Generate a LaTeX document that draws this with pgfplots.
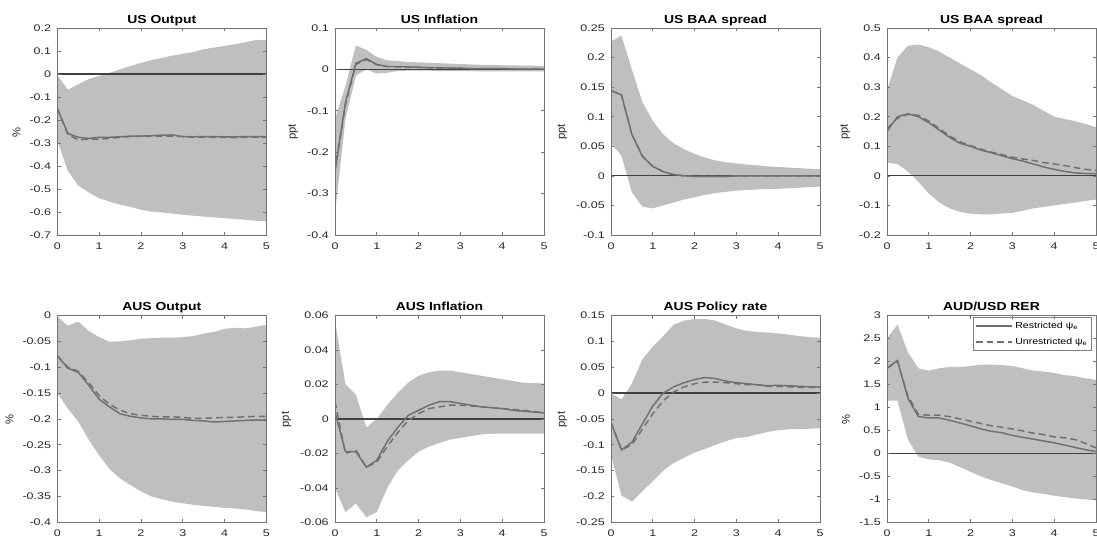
\documentclass[border=0pt]{standalone}
\usepackage{fontspec}
\setmainfont{Liberation Sans}[FakeStretch=1.2]
\newfontfamily\plainsans{Liberation Sans}
\newfontfamily\tickfont{Liberation Sans}[FakeStretch=1.3]
\usepackage{pgfplots}
\usepackage{pgfplotstable}
\pgfplotsset{compat=1.18}
\usepgfplotslibrary{fillbetween}

\definecolor{band}{RGB}{191,191,191}
\definecolor{med}{RGB}{112,112,112}
\definecolor{zero}{RGB}{64,64,64}

\pgfplotstableread{
x lo up r u
0 -0.29 -0.005 -0.15 -0.15
0.25 -0.42 -0.068 -0.258 -0.262
0.5 -0.485 -0.045 -0.275 -0.287
0.75 -0.515 -0.022 -0.28 -0.283
1 -0.54 -0.008 -0.275 -0.283
1.25 -0.555 0.005 -0.275 -0.28
1.5 -0.568 0.02 -0.273 -0.275
1.75 -0.578 0.035 -0.27 -0.272
2 -0.59 0.048 -0.27 -0.27
2.25 -0.598 0.06 -0.268 -0.27
2.5 -0.602 0.07 -0.266 -0.27
2.75 -0.607 0.08 -0.265 -0.27
3 -0.612 0.088 -0.272 -0.272
3.25 -0.616 0.095 -0.273 -0.275
3.5 -0.62 0.108 -0.272 -0.274
3.75 -0.623 0.115 -0.272 -0.275
4 -0.627 0.122 -0.273 -0.276
4.25 -0.63 0.13 -0.273 -0.277
4.5 -0.634 0.138 -0.272 -0.274
4.75 -0.638 0.148 -0.272 -0.274
5 -0.64 0.147 -0.273 -0.276
}\tUSout

\pgfplotstableread{
x lo up r u
0 -0.35 -0.12 -0.245 -0.245
0.25 -0.12 -0.04 -0.08 -0.085
0.5 -0.015 0.058 0.015 0.012
0.75 0.0 0.047 0.026 0.024
1 -0.01 0.03 0.012 0.011
1.25 -0.008 0.022 0.007 0.007
1.5 -0.004 0.02 0.007 0.006
1.75 -0.003 0.018 0.006 0.005
2 -0.003 0.017 0.005 0.005
2.25 -0.003 0.016 0.004 0.004
2.5 -0.004 0.015 0.004 0.003
2.75 -0.004 0.014 0.003 0.003
3 -0.004 0.013 0.003 0.003
3.25 -0.004 0.012 0.002 0.002
3.5 -0.005 0.011 0.002 0.002
3.75 -0.005 0.011 0.002 0.002
4 -0.005 0.010 0.002 0.002
4.25 -0.005 0.010 0.001 0.001
4.5 -0.005 0.009 0.001 0.001
4.75 -0.005 0.009 0.001 0.001
5 -0.005 0.008 0.001 0.001
}\tUSinf

\pgfplotstableread{
x lo up r u
0 0.055 0.2275 0.144 0.144
0.25 0.034 0.237 0.137 0.137
0.5 -0.028 0.18 0.07 0.07
0.75 -0.052 0.125 0.033 0.034
1 -0.055 0.093 0.016 0.016
1.25 -0.05 0.07 0.007 0.007
1.5 -0.045 0.055 0.002 0.002
1.75 -0.04 0.045 0.0 0.0
2 -0.036 0.037 -0.001 -0.001
2.25 -0.032 0.031 -0.001 -0.001
2.5 -0.029 0.026 -0.001 -0.001
2.75 -0.027 0.023 -0.001 -0.001
3 -0.025 0.021 0 0
3.25 -0.024 0.019 0 0
3.5 -0.023 0.018 0 0
3.75 -0.022 0.016 0 0
4 -0.022 0.015 0 0
4.25 -0.021 0.014 0 0
4.5 -0.02 0.013 0 0
4.75 -0.019 0.012 0 0
5 -0.018 0.011 0 0
}\tUSbaaA

\pgfplotstableread{
x lo up r u
0 0.045 0.29 0.15 0.16
0.25 0.04 0.40 0.2 0.195
0.5 0.015 0.44 0.21 0.208
0.75 -0.02 0.444 0.2 0.205
1 -0.06 0.435 0.18 0.185
1.25 -0.09 0.42 0.155 0.16
1.5 -0.11 0.40 0.13 0.135
1.75 -0.122 0.38 0.11 0.115
2 -0.128 0.36 0.1 0.102
2.25 -0.13 0.34 0.087 0.09
2.5 -0.13 0.315 0.078 0.08
2.75 -0.127 0.293 0.068 0.072
3 -0.125 0.27 0.058 0.063
3.25 -0.118 0.255 0.05 0.057
3.5 -0.11 0.24 0.04 0.052
3.75 -0.105 0.22 0.03 0.045
4 -0.1 0.2 0.022 0.04
4.25 -0.095 0.192 0.015 0.035
4.5 -0.09 0.185 0.01 0.028
4.75 -0.085 0.175 0.008 0.022
5 -0.08 0.165 0.007 0.018
}\tUSbaaB

\pgfplotstableread{
x lo up r u
0 -0.15 -0.002 -0.078 -0.078
0.25 -0.18 -0.02 -0.102 -0.1
0.5 -0.205 -0.012 -0.11 -0.108
0.75 -0.24 -0.03 -0.135 -0.13
1 -0.27 -0.042 -0.162 -0.155
1.25 -0.297 -0.051 -0.177 -0.172
1.5 -0.315 -0.05 -0.19 -0.183
1.75 -0.328 -0.048 -0.195 -0.19
2 -0.34 -0.045 -0.198 -0.193
2.25 -0.35 -0.044 -0.2 -0.195
2.5 -0.355 -0.043 -0.2 -0.196
2.75 -0.36 -0.043 -0.201 -0.196
3 -0.363 -0.042 -0.201 -0.197
3.25 -0.366 -0.04 -0.203 -0.199
3.5 -0.368 -0.035 -0.204 -0.199
3.75 -0.37 -0.032 -0.206 -0.198
4 -0.372 -0.026 -0.205 -0.197
4.25 -0.373 -0.024 -0.204 -0.197
4.5 -0.375 -0.025 -0.203 -0.196
4.75 -0.378 -0.022 -0.202 -0.195
5 -0.38 -0.018 -0.203 -0.195
}\tAUSout

\pgfplotstableread{
x lo up r u
0 -0.04 0.057 0.004 0.01
0.25 -0.054 0.02 -0.019 -0.02
0.5 -0.049 0.014 -0.019 -0.018
0.75 -0.057 -0.005 -0.028 -0.028
1 -0.054 0.0 -0.024 -0.025
1.25 -0.04 0.008 -0.013 -0.016
1.5 -0.03 0.015 -0.005 -0.008
1.75 -0.024 0.021 0.002 -0.001
2 -0.019 0.025 0.005 0.003
2.25 -0.016 0.027 0.008 0.006
2.5 -0.014 0.028 0.01 0.007
2.75 -0.012 0.028 0.01 0.008
3 -0.011 0.027 0.009 0.008
3.25 -0.01 0.026 0.008 0.0075
3.5 -0.009 0.025 0.007 0.007
3.75 -0.0085 0.024 0.0065 0.0065
4 -0.0085 0.023 0.006 0.006
4.25 -0.0085 0.022 0.005 0.0055
4.5 -0.0085 0.021 0.0045 0.005
4.75 -0.0085 0.0208 0.004 0.0042
5 -0.0085 0.0205 0.0035 0.0037
}\tAUSinf

\pgfplotstableread{
x lo up r u
0 -0.12 -0.001 -0.057 -0.057
0.25 -0.198 -0.012 -0.11 -0.11
0.5 -0.21 0.018 -0.095 -0.1
0.75 -0.19 0.065 -0.06 -0.07
1 -0.17 0.09 -0.025 -0.04
1.25 -0.15 0.11 0.0 -0.015
1.5 -0.135 0.132 0.012 0.002
1.75 -0.125 0.14 0.02 0.012
2 -0.115 0.143 0.026 0.018
2.25 -0.108 0.143 0.03 0.021
2.5 -0.1 0.14 0.028 0.021
2.75 -0.093 0.132 0.023 0.02
3 -0.087 0.125 0.02 0.018
3.25 -0.085 0.12 0.018 0.016
3.5 -0.08 0.118 0.016 0.016
3.75 -0.075 0.117 0.014 0.013
4 -0.072 0.115 0.015 0.013
4.25 -0.07 0.113 0.014 0.012
4.5 -0.07 0.11 0.013 0.011
4.75 -0.069 0.108 0.012 0.011
5 -0.068 0.107 0.012 0.011
}\tAUSpol

\pgfplotstableread{
x lo up r u
0 1.15 2.5 1.85 1.85
0.25 1.15 2.8 2.02 2.0
0.5 0.3 2.2 1.2 1.25
0.75 -0.07 1.85 0.8 0.85
1 -0.13 1.8 0.77 0.83
1.25 -0.15 1.85 0.77 0.83
1.5 -0.2 1.88 0.72 0.8
1.75 -0.3 1.88 0.66 0.75
2 -0.4 1.9 0.6 0.7
2.25 -0.5 1.93 0.53 0.65
2.5 -0.58 1.93 0.48 0.6
2.75 -0.65 1.92 0.45 0.57
3 -0.72 1.9 0.39 0.53
3.25 -0.8 1.85 0.35 0.49
3.5 -0.85 1.8 0.31 0.44
3.75 -0.88 1.78 0.27 0.41
4 -0.92 1.75 0.23 0.36
4.25 -0.95 1.7 0.18 0.34
4.5 -0.98 1.68 0.13 0.3
4.75 -1.0 1.63 0.08 0.22
5 -1.02 1.6 0.04 0.12
}\tRER

\pgfplotsset{
  every axis title/.style={at={(0.5,1)}, anchor=base, yshift=3.6pt,
    font=\bfseries\fontsize{8.7}{10}\selectfont},
  irf/.style={
    scale only axis, width=156.75pt, height=155.25pt,
    anchor=south west,
    xmin=0, xmax=5, xtick={0,1,2,3,4,5},
    axis line style={black!55, line width=0.5pt},
    tick style={black!55, line width=0.5pt},
    tick align=inside, tick pos=both, major tick length=2.5pt,
    ticklabel style={font=\tickfont\fontsize{7.2}{8}\selectfont, text=black!85},
    xticklabel style={yshift=-2.2pt},
    yticklabel style={xshift=-1.2pt},
    /pgf/number format/assume math mode=true,
    /pgf/number format/fixed,
    /pgf/number format/precision=3,
    scaled y ticks=false,
    axis on top,
    ylabel style={font=\plainsans\fontsize{8.4}{9}\selectfont, text=black!85, xshift=-0.5pt},
  },
  bandfill/.style={fill=band, draw=none, forget plot},
  zl/.style={zero, line width=0.95pt, forget plot},
  rl/.style={med, line width=1.1pt},
  ul/.style={med, line width=1.1pt, dash pattern=on 5pt off 3pt},
}

\newcommand{\panel}[1]{%
  \addplot[draw=none, name path=up, forget plot] table[x=x,y=up] {#1};
  \addplot[draw=none, name path=lo, forget plot] table[x=x,y=lo] {#1};
  \addplot[bandfill] fill between[of=up and lo];
  \addplot[zl] coordinates {(0,0) (5,0)};
}

\begin{document}
\begin{tikzpicture}

% top row
\begin{axis}[irf, at={(43pt,225.75pt)}, title={US Output}, ylabel={\%},
  ymin=-0.7, ymax=0.2, ytick={-0.7,-0.6,-0.5,-0.4,-0.3,-0.2,-0.1,0,0.1,0.2}]
\panel{\tUSout}
\addplot[rl, forget plot] table[x=x,y=r] {\tUSout};
\addplot[ul, forget plot] table[x=x,y=u] {\tUSout};
\end{axis}

\begin{axis}[irf, at={(251.25pt,225.75pt)}, title={US Inflation}, ylabel={ppt},
  ymin=-0.4, ymax=0.1, ytick={-0.4,-0.3,-0.2,-0.1,0,0.1}]
\panel{\tUSinf}
\addplot[rl, forget plot] table[x=x,y=r] {\tUSinf};
\addplot[ul, forget plot] table[x=x,y=u] {\tUSinf};
\end{axis}

\begin{axis}[irf, at={(458.25pt,225.75pt)}, title={US BAA spread}, ylabel={ppt},
  ymin=-0.1, ymax=0.25, ytick={-0.1,-0.05,0,0.05,0.1,0.15,0.2,0.25}]
\panel{\tUSbaaA}
\addplot[rl, forget plot] table[x=x,y=r] {\tUSbaaA};
\addplot[ul, forget plot] table[x=x,y=u] {\tUSbaaA};
\end{axis}

\begin{axis}[irf, at={(665.25pt,225.75pt)}, title={US BAA spread}, ylabel={ppt},
  ymin=-0.2, ymax=0.5, ytick={-0.2,-0.1,0,0.1,0.2,0.3,0.4,0.5}]
\panel{\tUSbaaB}
\addplot[rl, forget plot] table[x=x,y=r] {\tUSbaaB};
\addplot[ul, forget plot] table[x=x,y=u] {\tUSbaaB};
\end{axis}

% bottom row
\begin{axis}[irf, at={(43pt,10.2pt)}, title={AUS Output}, ylabel={\%},
  ymin=-0.4, ymax=0, ytick={-0.4,-0.35,-0.3,-0.25,-0.2,-0.15,-0.1,-0.05,0}]
\panel{\tAUSout}
\addplot[rl, forget plot] table[x=x,y=r] {\tAUSout};
\addplot[ul, forget plot] table[x=x,y=u] {\tAUSout};
\end{axis}

\begin{axis}[irf, at={(251.25pt,10.2pt)}, title={AUS Inflation}, ylabel={ppt},
  ymin=-0.06, ymax=0.06, ytick={-0.06,-0.04,-0.02,0,0.02,0.04,0.06}]
\panel{\tAUSinf}
\addplot[rl, forget plot] table[x=x,y=r] {\tAUSinf};
\addplot[ul, forget plot] table[x=x,y=u] {\tAUSinf};
\end{axis}

\begin{axis}[irf, at={(458.25pt,10.2pt)}, title={AUS Policy rate}, ylabel={ppt},
  ymin=-0.25, ymax=0.15, ytick={-0.25,-0.2,-0.15,-0.1,-0.05,0,0.05,0.1,0.15}]
\panel{\tAUSpol}
\addplot[rl, forget plot] table[x=x,y=r] {\tAUSpol};
\addplot[ul, forget plot] table[x=x,y=u] {\tAUSpol};
\end{axis}

\begin{axis}[irf, at={(665.25pt,10.2pt)}, title={AUD/USD RER}, ylabel={\%},
  ymin=-1.5, ymax=3, ytick={-1.5,-1,-0.5,0,0.5,1,1.5,2,2.5,3},
  legend style={at={(1,1)}, anchor=north east, xshift=-3pt, yshift=-1.5pt,
    draw=black!50, line width=0.4pt, fill=white,
    font=\fontsize{6.6}{7.5}\selectfont, inner sep=1.2pt, row sep=1.5pt,
    cells={anchor=west}},
  legend image code/.code={\draw[#1] (0pt,0pt) -- (27pt,0pt);}]
\panel{\tRER}
\addplot[rl] table[x=x,y=r] {\tRER};
\addlegendentry{Restricted ψ\textsubscript{e}}
\addplot[ul] table[x=x,y=u] {\tRER};
\addlegendentry{Unrestricted ψ\textsubscript{e}}
\end{axis}

\pgfresetboundingbox
\path[use as bounding box] (0,0) rectangle (822.75pt,402pt);
\end{tikzpicture}
\end{document}
